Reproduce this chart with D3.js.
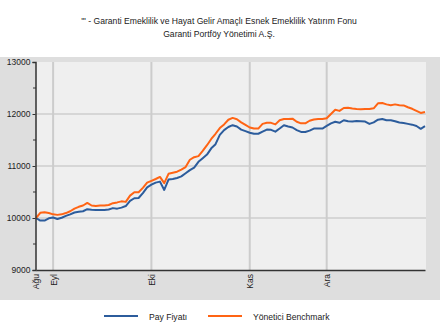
<!DOCTYPE html>
<html>
<head>
<meta charset="utf-8">
<script src="https://cdn.jsdelivr.net/npm/d3@7"></script>
<style>
  html, body { margin: 0; padding: 0; background: #ffffff; }
  svg { display: block; }
  text { font-family: "Liberation Sans", Arial, sans-serif; }
</style>
</head>
<body>
<svg id="chart" width="440" height="329"></svg>
<script>
// Fund price vs. manager benchmark, daily observations
const payFiyati = [
  10000, 9950, 9950, 9995, 10010, 9980, 10005, 10040, 10070, 10105,
  10120, 10130, 10170, 10160, 10155, 10155, 10155, 10165, 10190, 10180,
  10200, 10230, 10330, 10380, 10385, 10480, 10590, 10640, 10680, 10700,
  10540, 10740, 10750, 10770, 10800, 10860, 10920, 10970, 11080, 11150,
  11220, 11340, 11420, 11600, 11690, 11750, 11785, 11760, 11700, 11670,
  11640, 11620, 11620, 11660, 11700, 11695, 11660, 11720, 11785, 11760,
  11740, 11690, 11655, 11655, 11680, 11720, 11720, 11720, 11770, 11820,
  11850, 11830, 11880, 11860, 11855, 11865, 11860, 11855, 11810, 11840,
  11890, 11905, 11880, 11880, 11860, 11835, 11825, 11810, 11795, 11770,
  11715, 11765
];
const benchmark = [
  10000, 10100, 10110, 10095, 10070, 10060, 10070, 10095, 10130, 10180,
  10215, 10240, 10290, 10240, 10230, 10240, 10240, 10250, 10285, 10300,
  10320, 10310, 10430, 10495, 10495, 10580, 10680, 10715, 10750, 10790,
  10670, 10850, 10870, 10890, 10930, 10980, 11120, 11170, 11190, 11290,
  11400, 11520, 11620, 11730, 11800, 11890, 11925, 11900, 11840, 11790,
  11740, 11720, 11720, 11810, 11830, 11830, 11800, 11880, 11905, 11905,
  11910, 11850, 11820, 11820, 11870, 11895, 11905, 11905, 11920, 12000,
  12080, 12060, 12115, 12120, 12105, 12095, 12090, 12095, 12095, 12110,
  12205, 12210, 12185, 12170, 12185, 12170, 12165, 12130, 12100, 12060,
  12020, 12040
];
// Month labels and the observation index where each month begins
const monthLabels = ["Ağu", "Eyl", "Eki", "Kas", "Ara"];
const monthIndex  = [0, 4, 27, 50, 68];
const yTicks = [9000, 10000, 11000, 12000, 13000];
const yMinorTicks = [9500, 10500, 11500, 12500];
const seriesNames = ["Pay Fiyatı", "Yönetici Benchmark"];
const seriesColors = ["#2c5c9c", "#ff6414"];
const titleLines = [
  "'\" - Garanti Emeklilik ve Hayat Gelir Amaçlı Esnek Emeklilik Yatırım Fonu",
  "Garanti Portföy Yönetimi A.Ş."
];

const svg = d3.select("#chart");
const W = 440;
const plot = { left: 36, right: 426, top: 62, bottom: 270 };

// Titles
svg.selectAll("text.title").data(titleLines).join("text")
  .attr("class", "title")
  .attr("x", 219).attr("y", (d, i) => 24 + i * 13)
  .attr("text-anchor", "middle")
  .attr("font-size", 8.6)
  .attr("fill", "#222")
  .text(d => d);

// Grey chart panel
svg.append("rect").attr("x", 0).attr("y", 57).attr("width", W).attr("height", 243)
  .attr("fill", "#dedede");
svg.append("rect").attr("x", plot.left).attr("y", plot.top)
  .attr("width", plot.right - plot.left).attr("height", plot.bottom - plot.top)
  .attr("fill", "#efefef");

const x = d3.scaleLinear().domain([0, payFiyati.length - 1]).range([plot.left, plot.right - 1]);
const y = d3.scaleLinear().domain([9000, 13000]).range([plot.bottom, plot.top]);

// Horizontal gridlines
svg.append("g").selectAll("line").data(yTicks.filter(v => v > 9000 && v < 13000)).join("line")
  .attr("x1", plot.left).attr("x2", plot.right)
  .attr("y1", d => y(d)).attr("y2", d => y(d))
  .attr("stroke", "#d6d6d6").attr("stroke-width", 2);

// Vertical gridlines at month starts
svg.append("g").selectAll("line").data(monthIndex.slice(1)).join("line")
  .attr("x1", d => x(d)).attr("x2", d => x(d))
  .attr("y1", plot.top).attr("y2", plot.bottom)
  .attr("stroke", "#cccccc").attr("stroke-width", 2);

// Series lines
const line = d3.line().x((d, i) => x(i)).y(d => y(d));
[payFiyati, benchmark].forEach((s, k) => {
  svg.append("path").datum(s)
    .attr("fill", "none")
    .attr("stroke", seriesColors[k])
    .attr("stroke-width", 2)
    .attr("stroke-linejoin", "round")
    .attr("d", line);
});

// Y axis
const yAxis = d3.axisLeft(y).tickValues(yTicks).tickSize(3).tickPadding(2).tickFormat(d3.format("d"));
const gy = svg.append("g").attr("transform", `translate(${plot.left - 0.5},0)`).call(yAxis);
gy.select(".domain").attr("stroke", "#333").attr("stroke-width", 1.5);
gy.selectAll(".tick line").attr("stroke", "#333");
gy.selectAll("text").attr("font-size", 8.5).attr("fill", "#222")
  .attr("font-family", "Liberation Sans, Arial, sans-serif");
svg.append("g").selectAll("line").data(yMinorTicks).join("line")
  .attr("x1", plot.left - 3).attr("x2", plot.left)
  .attr("y1", d => y(d)).attr("y2", d => y(d))
  .attr("stroke", "#333");

// X axis
const xAxis = d3.axisBottom(x).tickValues(monthIndex)
  .tickFormat((d, i) => monthLabels[i]).tickSize(0).tickPadding(4);
const gx = svg.append("g").attr("transform", `translate(0,${plot.bottom})`).call(xAxis);
gx.select(".domain").attr("stroke", "#333").attr("stroke-width", 1.5);
gx.selectAll("text")
  .attr("font-size", 8.5).attr("fill", "#222")
  .attr("font-family", "Liberation Sans, Arial, sans-serif")
  .attr("transform", "rotate(-90)")
  .attr("text-anchor", "end")
  .attr("dy", "0.35em")
  .attr("x", -4).attr("y", 0);

// Legend
const legendX = [104, 208];
const lg = svg.append("g").selectAll("g").data(seriesNames).join("g")
  .attr("transform", (d, i) => `translate(${legendX[i]},316)`);
lg.append("line").attr("x1", 0).attr("x2", 34).attr("y1", 0).attr("y2", 0)
  .attr("stroke", (d, i) => seriesColors[i]).attr("stroke-width", 2);
lg.append("text").attr("x", 45).attr("y", 3.5)
  .attr("font-size", 8.6).attr("fill", "#222").text(d => d);
</script>
</body>
</html>
